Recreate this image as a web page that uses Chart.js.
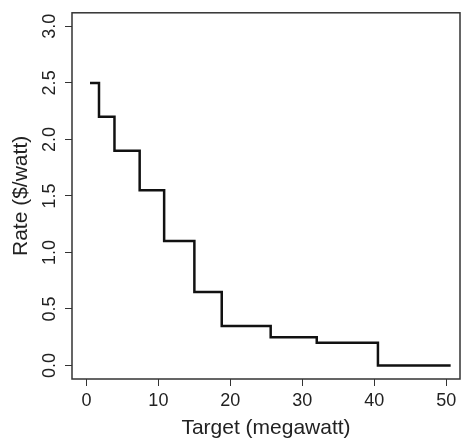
<!DOCTYPE html>
<html>
<head>
<meta charset="utf-8">
<script src="https://cdn.jsdelivr.net/npm/chart.js@4"></script>
<style>
  html, body { margin: 0; padding: 0; background: #fff; }
  #wrap { width: 463px; height: 444px; }
</style>
</head>
<body>
<div id="wrap"><canvas id="rateChart" width="463" height="444"></canvas></div>
<script>
// step function: each rate holds from its target until the next one
const targets = [0.5, 1.75, 3.9, 7.4, 10.8, 15.0, 18.8, 25.6, 32.0, 40.5, 50.6];
const rates   = [2.5, 2.2, 1.9, 1.55, 1.1, 0.65, 0.35, 0.25, 0.2, 0.0, 0.0];

const xTickValues = [0, 10, 20, 30, 40, 50];
const xTickLabels = ['0', '10', '20', '30', '40', '50'];
const yTickValues = [0, 0.5, 1.0, 1.5, 2.0, 2.5, 3.0];
const yTickLabels = ['0.0', '0.5', '1.0', '1.5', '2.0', '2.5', '3.0'];

const fontFamily = '"Liberation Sans", Arial, Helvetica, sans-serif';
const ink = '#222';

// R style box around the plot region
const boxPlugin = {
    id: 'box',
    afterDraw(chart) {
        const { ctx, chartArea: a } = chart;
        ctx.save();
        ctx.strokeStyle = '#333';
        ctx.lineWidth = 1.5;
        ctx.strokeRect(a.left, a.top, a.right - a.left, a.bottom - a.top);
        ctx.restore();
    }
};

const ctx = document.getElementById('rateChart').getContext('2d');
new Chart(ctx, {
    type: 'line',
    data: {
        datasets: [{
            data: targets.map((x, i) => ({ x: x, y: rates[i] })),
            stepped: 'before',
            borderColor: '#111',
            borderWidth: 2.5,
            pointRadius: 0,
            fill: false
        }]
    },
    options: {
        responsive: false,
        animation: false,
        layout: { padding: { top: 5, right: 3, left: 0, bottom: 0 } },
        plugins: {
            legend: { display: false },
            tooltip: { enabled: false }
        },
        scales: {
            x: {
                type: 'linear',
                min: -2.0,
                max: 51.9,
                afterBuildTicks(scale) {
                    scale.ticks = xTickValues.map(v => ({ value: v }));
                },
                afterFit(scale) { scale.height = 65; },
                grid: { drawOnChartArea: false, drawTicks: true, tickLength: 7, color: '#333', lineWidth: 1 },
                border: { display: false },
                ticks: {
                    autoSkip: false,
                    maxRotation: 0,
                    padding: 4,
                    color: ink,
                    font: { family: fontFamily, size: 18 },
                    callback: (v) => xTickLabels[xTickValues.indexOf(v)]
                },
                title: {
                    display: true,
                    text: 'Target (megawatt)',
                    color: ink,
                    font: { family: fontFamily, size: 21 },
                    padding: { top: 0, bottom: 3 }
                }
            },
            y: {
                type: 'linear',
                min: -0.12,
                max: 3.12,
                afterBuildTicks(scale) {
                    scale.ticks = yTickValues.map(v => ({ value: v }));
                },
                afterFit(scale) { scale.width = 72; },
                grid: { drawOnChartArea: false, drawTicks: true, tickLength: 7, color: '#333', lineWidth: 1 },
                border: { display: false },
                ticks: {
                    autoSkip: false,
                    minRotation: 90,
                    maxRotation: 90,
                    crossAlign: 'center',
                    padding: 2,
                    color: ink,
                    font: { family: fontFamily, size: 18 },
                    callback: (v) => yTickLabels[yTickValues.indexOf(v)]
                },
                title: {
                    display: true,
                    text: 'Rate ($/watt)',
                    color: ink,
                    font: { family: fontFamily, size: 21 },
                    padding: { top: 9, bottom: 0 }
                }
            }
        }
    },
    plugins: [boxPlugin]
});
</script>
</body>
</html>
